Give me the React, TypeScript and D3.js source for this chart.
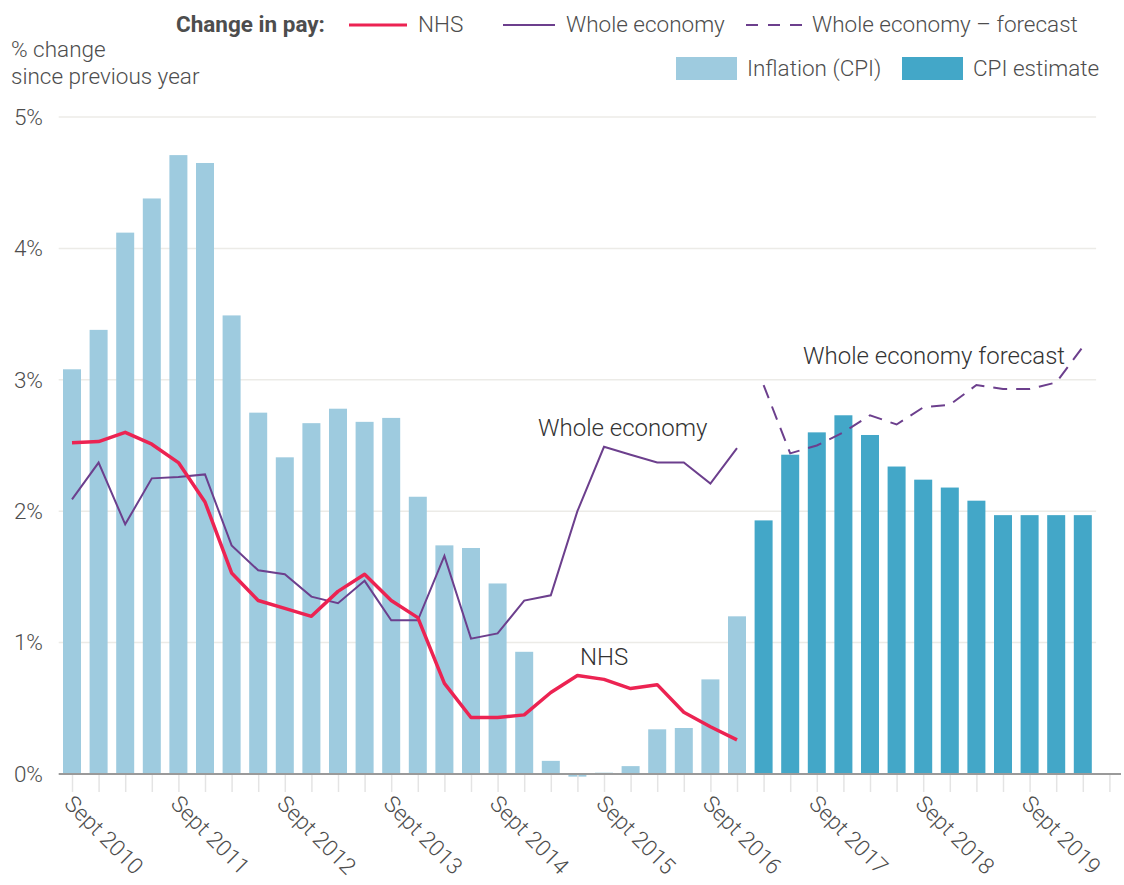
import React, { useEffect, useRef } from "react";
import { select, scaleLinear, line, axisBottom } from "d3";

// quarters, Sept 2010 to Mar 2020
const quarters = [
  "Sep 2010", "Dec 2010", "Mar 2011", "Jun 2011", "Sep 2011", "Dec 2011", "Mar 2012", "Jun 2012",
  "Sep 2012", "Dec 2012", "Mar 2013", "Jun 2013", "Sep 2013", "Dec 2013", "Mar 2014", "Jun 2014",
  "Sep 2014", "Dec 2014", "Mar 2015", "Jun 2015", "Sep 2015", "Dec 2015", "Mar 2016", "Jun 2016",
  "Sep 2016", "Dec 2016", "Mar 2017", "Jun 2017", "Sep 2017", "Dec 2017", "Mar 2018", "Jun 2018",
  "Sep 2018", "Dec 2018", "Mar 2019", "Jun 2019", "Sep 2019", "Dec 2019", "Mar 2020",
];
const tickLabels = [
  "Sept 2010", "Sept 2011", "Sept 2012", "Sept 2013", "Sept 2014",
  "Sept 2015", "Sept 2016", "Sept 2017", "Sept 2018", "Sept 2019",
];

// inflation (CPI), Sep 2010 - Dec 2016
const cpi = [
  3.08, 3.38, 4.12, 4.38, 4.71, 4.65, 3.49, 2.75, 2.41, 2.67, 2.78, 2.68, 2.71,
  2.11, 1.74, 1.72, 1.45, 0.93, 0.1, -0.02, 0.01, 0.06, 0.34, 0.35, 0.72, 1.2,
];
// CPI estimate, Mar 2017 - Mar 2020
const cpiEstimate = [1.93, 2.43, 2.6, 2.73, 2.58, 2.34, 2.24, 2.18, 2.08, 1.97, 1.97, 1.97, 1.97];

// change in pay
const nhs = [
  2.52, 2.53, 2.6, 2.51, 2.37, 2.07, 1.53, 1.32, 1.26, 1.2, 1.39, 1.52, 1.32,
  1.19, 0.69, 0.43, 0.43, 0.45, 0.62, 0.75, 0.72, 0.65, 0.68, 0.47, 0.36, 0.26,
];
const wholeEconomy = [
  2.09, 2.37, 1.9, 2.25, 2.26, 2.28, 1.74, 1.55, 1.52, 1.35, 1.3, 1.47, 1.17,
  1.17, 1.66, 1.03, 1.07, 1.32, 1.36, 2.0, 2.49, 2.43, 2.37, 2.37, 2.21, 2.48,
];
const wholeEconomyForecast = [2.96, 2.44, 2.5, 2.6, 2.73, 2.66, 2.79, 2.81, 2.96, 2.93, 2.93, 2.98, 3.25];

const yTicks = [0, 1, 2, 3, 4, 5];

const FONT = "Roboto, 'Helvetica Neue', Arial, sans-serif";
const TEXT = "#4d4d4d";
const RED = "#ec2352";
const PURPLE = "#6c3f8d";
const LIGHT = "#9ecbdf";
const DARK = "#43a7c8";
const FS = 22.5;

export default function App() {
  const svgRef = useRef<SVGSVGElement>(null);

  useEffect(() => {
    document.body.style.margin = "0";
    const svg = select(svgRef.current);
    svg.selectAll("*").remove();

    const step = 26.6;
    const x0 = 72;
    const xScale = scaleLinear().domain([0, quarters.length]).range([x0, x0 + step * quarters.length]);
    const yScale = scaleLinear().domain([0, 5]).range([774, 117]);
    const barWidth = 18;
    const left = x0 - step / 2;
    const right = xScale(quarters.length - 1) + step / 2;

    // gridlines
    svg
      .append("g")
      .selectAll("line")
      .data(yTicks.filter(d => d > 0))
      .join("line")
      .attr("x1", left)
      .attr("x2", right)
      .attr("y1", d => yScale(d))
      .attr("y2", d => yScale(d))
      .attr("stroke", "#ecebe7")
      .attr("stroke-width", 1.5);

    // y labels
    svg
      .append("g")
      .selectAll("text")
      .data(yTicks)
      .join("text")
      .attr("x", 43)
      .attr("y", d => yScale(d))
      .attr("dy", "0.35em")
      .attr("text-anchor", "end")
      .attr("font-family", FONT)
      .attr("font-weight", 300)
      .attr("font-size", FS)
      .attr("fill", TEXT)
      .text(d => `${d}%`);

    // bars
    const bars = [
      ...cpi.map((v, i) => ({ i, v, est: false })),
      ...cpiEstimate.map((v, i) => ({ i: i + cpi.length, v, est: true })),
    ];
    svg
      .append("g")
      .selectAll("rect")
      .data(bars)
      .join("rect")
      .attr("x", d => xScale(d.i) - barWidth / 2)
      .attr("y", d => yScale(Math.max(0, d.v)))
      .attr("width", barWidth)
      .attr("height", d => Math.max(1, Math.abs(yScale(0) - yScale(d.v))))
      .attr("fill", d => (d.est ? DARK : LIGHT));

    // x axis
    const xAxis = axisBottom(xScale)
      .tickValues(Array.from({ length: quarters.length + 1 }, (_, i) => i))
      .tickSize(18)
      .tickFormat(() => "");
    const gx = svg.append("g").attr("transform", `translate(0, ${yScale(0)})`).call(xAxis);
    gx.select(".domain").remove();
    gx.selectAll(".tick line").attr("stroke", "#e4e4e4").attr("stroke-width", 1.5);
    svg
      .append("line")
      .attr("x1", left)
      .attr("x2", 1121)
      .attr("y1", yScale(0))
      .attr("y2", yScale(0))
      .attr("stroke", "#9a9a9a")
      .attr("stroke-width", 2);

    svg
      .append("g")
      .selectAll("text")
      .data(tickLabels)
      .join("text")
      .attr("transform", (d, k) => `translate(${xScale(k * 4) - 9}, 805) rotate(45)`)
      .attr("font-family", FONT)
      .attr("font-weight", 300)
      .attr("font-size", FS)
      .attr("fill", TEXT)
      .text(d => d);

    // lines
    const lineGen = line<number>()
      .x((d, i) => xScale(i))
      .y(d => yScale(d));
    svg
      .append("path")
      .datum(wholeEconomy)
      .attr("d", lineGen)
      .attr("fill", "none")
      .attr("stroke", PURPLE)
      .attr("stroke-width", 2);
    const fcGen = line<number>()
      .x((d, i) => xScale(i + cpi.length))
      .y(d => yScale(d));
    svg
      .append("path")
      .datum(wholeEconomyForecast)
      .attr("d", fcGen)
      .attr("fill", "none")
      .attr("stroke", PURPLE)
      .attr("stroke-width", 2)
      .attr("stroke-dasharray", "14 9");
    svg
      .append("path")
      .datum(nhs)
      .attr("d", lineGen)
      .attr("fill", "none")
      .attr("stroke", RED)
      .attr("stroke-width", 3.5)
      .attr("stroke-linejoin", "round");

    // annotations
    const note = (t: string, x: number, y: number) =>
      svg
        .append("text")
        .attr("x", x)
        .attr("y", y)
        .attr("font-family", FONT)
        .attr("font-weight", 300)
        .attr("font-size", 24)
        .attr("fill", "#333")
        .text(t);
    note("Whole economy", 538, 436);
    note("NHS", 580, 665);
    note("Whole economy forecast", 803, 364);

    // axis title
    const title = svg
      .append("text")
      .attr("font-family", FONT)
      .attr("font-weight", 300)
      .attr("font-size", FS)
      .attr("fill", TEXT);
    title.append("tspan").attr("x", 11).attr("y", 57).text("% change");
    title.append("tspan").attr("x", 11).attr("y", 84).text("since previous year");

    // legend
    const lg = svg.append("g").attr("font-family", FONT).attr("font-size", FS).attr("fill", TEXT);
    lg.append("text").attr("x", 176).attr("y", 32).attr("font-weight", 700).text("Change in pay:");
    lg.append("line").attr("x1", 349).attr("x2", 407).attr("y1", 25).attr("y2", 25).attr("stroke", RED).attr("stroke-width", 3);
    lg.append("text").attr("x", 418).attr("y", 32).attr("font-weight", 300).text("NHS");
    lg.append("line").attr("x1", 503).attr("x2", 555).attr("y1", 25).attr("y2", 25).attr("stroke", PURPLE).attr("stroke-width", 2);
    lg.append("text").attr("x", 566).attr("y", 32).attr("font-weight", 300).text("Whole economy");
    lg.append("line").attr("x1", 746).attr("x2", 802).attr("y1", 25).attr("y2", 25).attr("stroke", PURPLE).attr("stroke-width", 2).attr("stroke-dasharray", "12 10");
    lg.append("text").attr("x", 812).attr("y", 32).attr("font-weight", 300).text("Whole economy – forecast");
    lg.append("rect").attr("x", 676).attr("y", 57).attr("width", 61).attr("height", 23).attr("fill", LIGHT);
    lg.append("text").attr("x", 747).attr("y", 76).attr("font-weight", 300).text("Inflation (CPI)");
    lg.append("rect").attr("x", 902).attr("y", 57).attr("width", 61).attr("height", 23).attr("fill", DARK);
    lg.append("text").attr("x", 973).attr("y", 76).attr("font-weight", 300).text("CPI estimate");
  }, []);

  return <svg ref={svgRef} width={1124} height={885} style={{ display: "block" }} />;
}
